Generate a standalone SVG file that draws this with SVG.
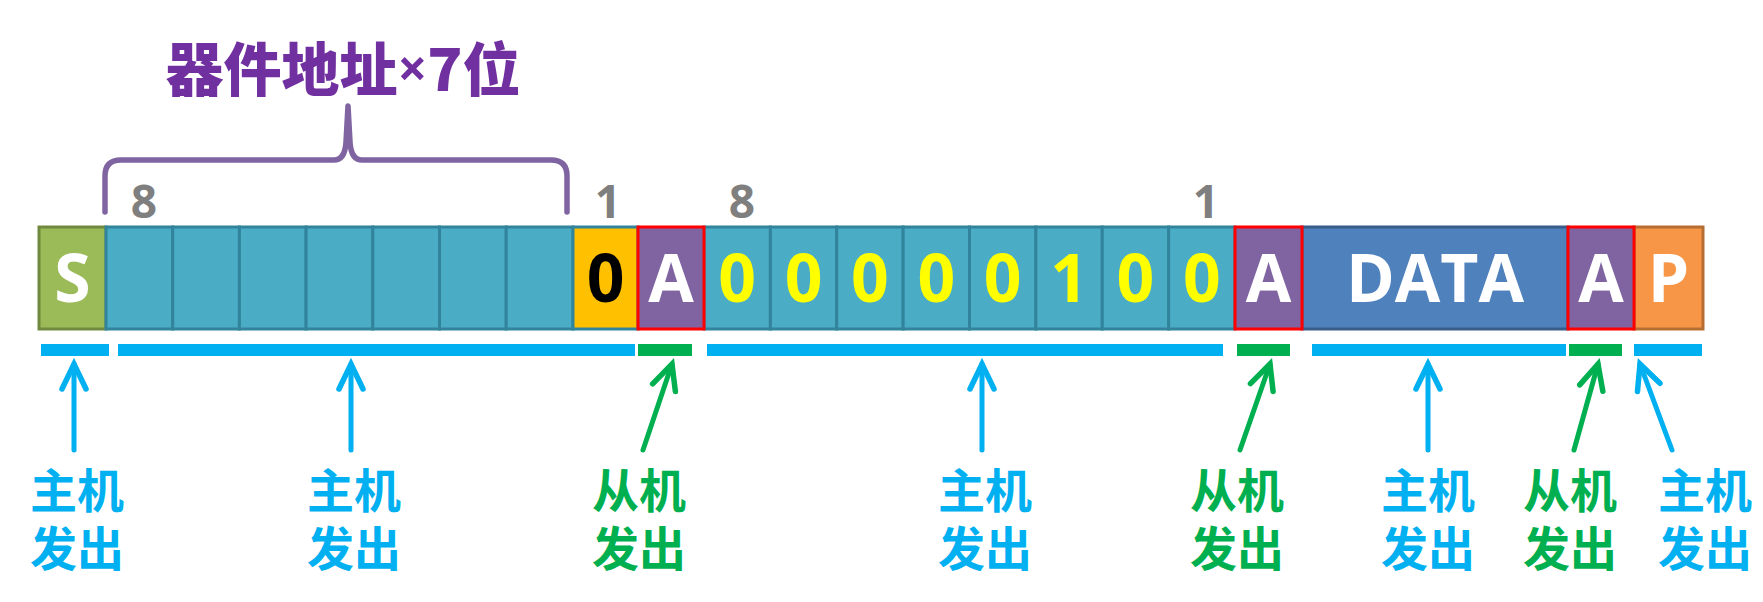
<svg xmlns="http://www.w3.org/2000/svg" width="1763" height="602" viewBox="0 0 1763 602">
  <defs>
    <style>
      .cell { stroke-width: 3; }
      .teal { fill: #4BACC6; stroke: #31849B; }
      .ack { fill: #8064A2; stroke: #FF0000; }
      .bit { font-family: "Open Sans", "Liberation Sans", sans-serif; font-weight: 700; font-size: 66px; text-anchor: middle; }
      .num { font-family: "Open Sans", "Liberation Sans", sans-serif; font-weight: 700; font-size: 46px; fill: #7F7F7F; text-anchor: middle; }
      .lbl { font-family: "Noto Sans CJK SC", "Noto Sans", sans-serif; font-weight: 700; font-size: 47px; text-anchor: middle; dominant-baseline: central; }
      .host { fill: #00B0F0; }
      .slave { fill: #00B050; }
      .arrow { fill: none; stroke-width: 5; stroke-linecap: round; }
      .a-host { stroke: #00B0F0; marker-end: url(#headHost); }
      .a-slave { stroke: #00B050; marker-end: url(#headSlave); }
    </style>
    <marker id="headHost" markerUnits="userSpaceOnUse" markerWidth="40" markerHeight="40" viewBox="-30 -20 40 40" refX="0" refY="0" orient="auto">
      <path d="M-25,-12 L0,0 L-25,12" fill="none" stroke="#00B0F0" stroke-width="5.5" stroke-linecap="round" stroke-linejoin="miter"/>
    </marker>
    <marker id="headSlave" markerUnits="userSpaceOnUse" markerWidth="40" markerHeight="40" viewBox="-30 -20 40 40" refX="0" refY="0" orient="auto">
      <path d="M-25,-12 L0,0 L-25,12" fill="none" stroke="#00B050" stroke-width="5.5" stroke-linecap="round" stroke-linejoin="miter"/>
    </marker>
  </defs>

  <rect width="1763" height="602" fill="#FFFFFF"/>

  <!-- title and brace over the 7 address bits -->
  <g id="address-brace">
    <text x="343" y="66" font-family="'Noto Sans CJK SC', 'Noto Sans', sans-serif" font-weight="900" font-size="58" fill="#7030A0" text-anchor="middle" dominant-baseline="central">器件地址<tspan font-family="'Open Sans', 'Liberation Sans', sans-serif" font-weight="700" font-size="52">×</tspan>7位</text>
    <path d="M105,212 V176 Q105,160 121,160 H334 Q345,160 346,142 L348,106 L350,142 Q351,160 362,160 H551 Q567,160 567,176 V212" fill="none" stroke="#8064A2" stroke-width="5.5" stroke-linejoin="round" stroke-linecap="round"/>
  </g>

  <!-- bit-order labels -->
  <g id="bit-order">
    <text class="num" x="144" y="218">8</text>
    <text class="num" x="608" y="218">1</text>
    <text class="num" x="742" y="218">8</text>
    <text class="num" x="1206" y="218">1</text>
  </g>

  <!-- frame cells -->
  <g id="start">
    <rect class="cell" x="39" y="227" width="67" height="102" fill="#9BBB59" stroke="#71893F"/>
    <text class="bit" x="72.5" y="302" fill="#FFFFFF">S</text>
  </g>
  <g id="address">
    <rect class="cell teal" x="106" y="227" width="66.7" height="102"/>
    <rect class="cell teal" x="172.7" y="227" width="66.7" height="102"/>
    <rect class="cell teal" x="239.4" y="227" width="66.7" height="102"/>
    <rect class="cell teal" x="306.1" y="227" width="66.7" height="102"/>
    <rect class="cell teal" x="372.8" y="227" width="66.7" height="102"/>
    <rect class="cell teal" x="439.5" y="227" width="66.7" height="102"/>
    <rect class="cell teal" x="506.2" y="227" width="66.8" height="102"/>
  </g>
  <g id="rw-bit">
    <rect class="cell" x="573" y="227" width="65" height="102" fill="#FFC000" stroke="#31849B"/>
    <text class="bit" x="605.5" y="302" fill="#000000">0</text>
  </g>
  <g id="register">
    <rect class="cell teal" x="704" y="227" width="66.375" height="102"/>
    <rect class="cell teal" x="770.375" y="227" width="66.375" height="102"/>
    <rect class="cell teal" x="836.75" y="227" width="66.375" height="102"/>
    <rect class="cell teal" x="903.125" y="227" width="66.375" height="102"/>
    <rect class="cell teal" x="969.5" y="227" width="66.375" height="102"/>
    <rect class="cell teal" x="1035.875" y="227" width="66.375" height="102"/>
    <rect class="cell teal" x="1102.25" y="227" width="66.375" height="102"/>
    <rect class="cell teal" x="1168.625" y="227" width="66.375" height="102"/>
    <g fill="#FFFF00">
      <text class="bit" x="737.2" y="302">0</text>
      <text class="bit" x="803.6" y="302">0</text>
      <text class="bit" x="869.9" y="302">0</text>
      <text class="bit" x="936.3" y="302">0</text>
      <text class="bit" x="1002.7" y="302">0</text>
      <text class="bit" x="1069.1" y="302">1</text>
      <text class="bit" x="1135.4" y="302">0</text>
      <text class="bit" x="1201.8" y="302">0</text>
    </g>
  </g>
  <g id="data">
    <rect class="cell" x="1302" y="227" width="266" height="102" fill="#4F81BD" stroke="#385D8A"/>
    <text class="bit" x="1435" y="302" fill="#FFFFFF">DATA</text>
  </g>
  <g id="stop">
    <rect class="cell" x="1634" y="227" width="69" height="102" fill="#F79646" stroke="#B66D31"/>
    <text class="bit" x="1668.5" y="302" fill="#FFFFFF">P</text>
  </g>
  <g id="ack-1">
    <rect class="cell ack" x="638" y="227" width="66" height="102"/>
    <text class="bit" x="671" y="302" fill="#FFFFFF">A</text>
  </g>
  <g id="ack-2">
    <rect class="cell ack" x="1235" y="227" width="67" height="102"/>
    <text class="bit" x="1268.5" y="302" fill="#FFFFFF">A</text>
  </g>
  <g id="ack-3">
    <rect class="cell ack" x="1568" y="227" width="66" height="102"/>
    <text class="bit" x="1601" y="302" fill="#FFFFFF">A</text>
  </g>

  <!-- who drives each segment -->
  <g id="segments">
    <rect class="host" x="41" y="344" width="68" height="12"/>
    <rect class="host" x="118" y="344" width="517" height="12"/>
    <rect class="slave" x="638" y="344" width="54" height="12"/>
    <rect class="host" x="707" y="344" width="516" height="12"/>
    <rect class="slave" x="1237" y="344" width="53" height="12"/>
    <rect class="host" x="1312" y="344" width="254" height="12"/>
    <rect class="slave" x="1569" y="344" width="53" height="12"/>
    <rect class="host" x="1634" y="344" width="68" height="12"/>
  </g>

  <g id="connectors">
    <line class="arrow a-host" x1="74" y1="450" x2="74" y2="364"/>
    <line class="arrow a-host" x1="351" y1="450" x2="351" y2="364"/>
    <line class="arrow a-slave" x1="643" y1="450" x2="672" y2="364"/>
    <line class="arrow a-host" x1="982" y1="450" x2="982" y2="364"/>
    <line class="arrow a-slave" x1="1240" y1="450" x2="1270" y2="364"/>
    <line class="arrow a-host" x1="1428" y1="450" x2="1428" y2="364"/>
    <line class="arrow a-slave" x1="1574" y1="450" x2="1598" y2="364"/>
    <line class="arrow a-host" x1="1672" y1="450" x2="1640" y2="364"/>
  </g>

  <!-- two-line sender labels -->
  <g id="label-start">
    <text class="lbl host"><tspan x="77" y="487">主机</tspan><tspan x="77" y="545">发出</tspan></text>
  </g>
  <g id="label-address">
    <text class="lbl host"><tspan x="354" y="487">主机</tspan><tspan x="354" y="545">发出</tspan></text>
  </g>
  <g id="label-ack-1">
    <text class="lbl slave"><tspan x="639" y="487">从机</tspan><tspan x="639" y="545">发出</tspan></text>
  </g>
  <g id="label-register">
    <text class="lbl host"><tspan x="985" y="487">主机</tspan><tspan x="985" y="545">发出</tspan></text>
  </g>
  <g id="label-ack-2">
    <text class="lbl slave"><tspan x="1237" y="487">从机</tspan><tspan x="1237" y="545">发出</tspan></text>
  </g>
  <g id="label-data">
    <text class="lbl host"><tspan x="1428" y="487">主机</tspan><tspan x="1428" y="545">发出</tspan></text>
  </g>
  <g id="label-ack-3">
    <text class="lbl slave"><tspan x="1570" y="487">从机</tspan><tspan x="1570" y="545">发出</tspan></text>
  </g>
  <g id="label-stop">
    <text class="lbl host"><tspan x="1705" y="487">主机</tspan><tspan x="1705" y="545">发出</tspan></text>
  </g>
</svg>
